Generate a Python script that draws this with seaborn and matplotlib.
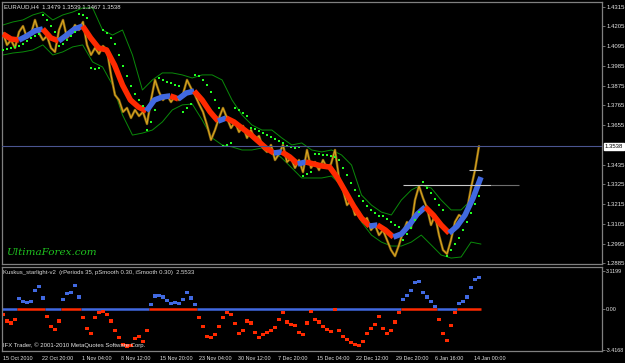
import numpy as np
import pandas as pd
import matplotlib
matplotlib.use("Agg")
import matplotlib.pyplot as plt
import matplotlib.transforms as mtransforms
import seaborn as sns

sns.set_theme(style="dark")
plt.rcParams['font.family'] = ['Liberation Sans', 'DejaVu Sans']

# ---------------- data ----------------
symbol_title = "EURAUD,H4  1.3479 1.3539 1.3467 1.3538"
osc_title = "Kuskus_starlight-v2  (rPeriods 35, pSmooth 0.30, iSmooth 0.30)  2.5533"
copyright_text = "IFX Trader, \u00a9 2001-2010 MetaQuotes Software Corp."
watermark = "UltimaForex.com"

price_close = [1.4168, 1.4102, 1.4129, 1.4085, 1.4174, 1.4207, 1.4141, 1.4163, 1.4241, 1.4168,
               1.4129, 1.4152, 1.4085, 1.4063, 1.4185, 1.4241, 1.4141, 1.4168, 1.4213, 1.4185,
               1.4230, 1.4102, 1.4046, 1.4085, 1.4052, 1.4096, 1.4074, 1.3935, 1.3823, 1.3795,
               1.3729, 1.3751, 1.3695, 1.3740, 1.3706, 1.3729, 1.3662, 1.3795, 1.3907, 1.3840,
               1.3795, 1.3823, 1.3784, 1.3818, 1.3795, 1.3829, 1.3907, 1.3862, 1.3823, 1.3773,
               1.3729, 1.3656, 1.3573, 1.3628, 1.3695, 1.3751, 1.3695, 1.3639, 1.3673, 1.3617,
               1.3651, 1.3584, 1.3628, 1.3573, 1.3595, 1.3528, 1.3506, 1.3545, 1.3461, 1.3495,
               1.3545, 1.3450, 1.3472, 1.3417, 1.3461, 1.3394, 1.3517, 1.3417, 1.3450, 1.3405,
               1.3461, 1.3417, 1.3439, 1.3517, 1.3361, 1.3294, 1.3210, 1.3238, 1.3155, 1.3171,
               1.3116, 1.3138, 1.3071, 1.3099, 1.3043, 1.3071, 1.3016, 1.2960, 1.2926, 1.2988,
               1.3060, 1.3116, 1.3082, 1.3238, 1.3316, 1.3249, 1.3194, 1.3099, 1.3155, 1.3043,
               1.2960, 1.2938, 1.3016, 1.3116, 1.3155, 1.3138, 1.3183, 1.3305, 1.3405, 1.3538]

ma_line = [1.4163, 1.4135, 1.4129, 1.4152, 1.4180, 1.4191, 1.4141, 1.4124, 1.4157, 1.4191,
           1.4207, 1.4141, 1.4085, 1.4074, 1.3990, 1.3879, 1.3795, 1.3756, 1.3734, 1.3795,
           1.3812, 1.3818, 1.3801, 1.3834, 1.3845, 1.3795, 1.3729, 1.3678, 1.3695, 1.3673,
           1.3639, 1.3606, 1.3567, 1.3528, 1.3500, 1.3506, 1.3478, 1.3439, 1.3450, 1.3439,
           1.3428, 1.3422, 1.3361, 1.3283, 1.3205, 1.3138, 1.3093, 1.3099, 1.3071, 1.3032,
           1.3049, 1.3099, 1.3160, 1.3199, 1.3155, 1.3099, 1.3054, 1.3093, 1.3155, 1.3249,
           1.3366]

sar_dots = [1.4074, 1.4079, 1.4085, 1.4091, 1.4096, 1.4107, 1.4124, 1.4141, 1.4152, 1.4163,
            1.4269, 1.4241, 1.4207, 1.4174, 1.4096, 1.4107, 1.4129, 1.4152, 1.4174, 1.4274,
            1.4269, 1.4252, 1.3974, 1.3968, 1.3974, 1.4185, 1.4168, 1.4141, 1.4107, 1.4046,
            1.3985, 1.3929, 1.3873, 1.3829, 1.3795, 1.3762, 1.3628, 1.3673, 1.3740, 1.3918,
            1.3907, 1.3896, 1.3890, 1.3879, 1.3873, 1.3729, 1.3751, 1.3773, 1.3935, 1.3929,
            1.3907, 1.3879, 1.3840, 1.3795, 1.3751, 1.3539, 1.3545, 1.3556, 1.3751, 1.3740,
            1.3723, 1.3706, 1.3639, 1.3634, 1.3623, 1.3612, 1.3600, 1.3589, 1.3578, 1.3567,
            1.3556, 1.3539, 1.3534, 1.3528, 1.3534, 1.3372, 1.3383, 1.3394, 1.3495, 1.3495,
            1.3489, 1.3489, 1.3483, 1.3478, 1.3461, 1.3417, 1.3377, 1.3333, 1.3294, 1.3261,
            1.3233, 1.3205, 1.3183, 1.3166, 1.3149, 1.3149, 1.3133, 1.3116, 1.3099, 1.3088,
            1.3016, 1.3049, 1.3082, 1.3127, 1.3171, 1.3339, 1.3305, 1.3277, 1.3244, 1.3210,
            1.3183, 1.2926, 1.2960, 1.2993, 1.3026, 1.3071, 1.3116, 1.3166, 1.3216, 1.3261]

band_upper = [1.4213, 1.4230, 1.4241, 1.4269, 1.4285, 1.4241, 1.4269, 1.4285, 1.4308, 1.4308,
              1.4185, 1.4157, 1.4185, 1.4046, 1.3851, 1.3907, 1.3946, 1.3946, 1.3935, 1.3918,
              1.3935, 1.3935, 1.3907, 1.3795, 1.3712, 1.3656, 1.3628, 1.3628, 1.3584, 1.3545,
              1.3556, 1.3517, 1.3506, 1.3517, 1.3489, 1.3433, 1.3266, 1.3210, 1.3171, 1.3155,
              1.3238, 1.3294, 1.3322, 1.3305, 1.3238, 1.3183, 1.3183, 1.3238, 1.3350]

band_lower = [1.4046, 1.4057, 1.4063, 1.4074, 1.4102, 1.4046, 1.4063, 1.4091, 1.4102, 1.4007,
              1.3979, 1.3879, 1.3712, 1.3600, 1.3611, 1.3628, 1.3673, 1.3740, 1.3768, 1.3773,
              1.3684, 1.3584, 1.3545, 1.3534, 1.3517, 1.3517, 1.3528, 1.3517, 1.3472, 1.3417,
              1.3361, 1.3361, 1.3361, 1.3372, 1.3316, 1.3210, 1.3116, 1.3043, 1.3004, 1.2982,
              1.2982, 1.3004, 1.3043, 1.2988, 1.2932, 1.2915, 1.2921, 1.3004, 1.2993]

osc_values = [-0.46, -1.02, -1.18, -0.86, 0.81, 0.57, 0.49, 0.57, 1.53, 1.85,
              0.89, -0.62, -1.50, -1.74, -1.02, 0.73, 1.29, 1.37, 1.93, 0.97,
              -0.70, -1.66, -2.06, -0.70, -0.30, -0.22, -0.46, -1.02, -1.82, -2.38,
              -2.93, -3.09, -3.01, -2.46, -2.30, -2.70, -1.82, 0.33, 1.05, 1.13,
              0.97, 0.65, 0.41, 0.49, 0.41, 0.73, 1.37, 0.89, 0.33, -0.70,
              -1.50, -2.30, -2.38, -2.14, -1.50, -0.70, -0.30, -0.46, -1.26, -2.06,
              -1.82, -1.02, -1.18, -1.98, -2.38, -2.14, -1.98, -1.82, -1.58, -0.86,
              -0.30, -1.10, -1.34, -1.42, -1.98, -2.14, -1.18, -0.22, -0.86, -1.10,
              -1.50, -1.74, -1.90, -0.10, -1.82, -2.30, -2.54, -2.77, -2.93, -3.01,
              -2.70, -2.06, -1.66, -1.34, -0.62, -1.66, -2.06, -1.82, -1.10, -0.30,
              0.73, 1.13, 1.53, 2.17, 2.25, 1.37, 0.97, 0.57, 0.18, -0.86,
              -2.06, -2.61, -1.42, -0.30, 0.41, 0.57, 0.97, 1.77, 2.41, 2.55]

last_price = 1.3538
level_prev_high = 1.3322
level_recent = 1.3408

price_ticks = [1.4315, 1.4205, 1.4095, 1.3985, 1.3875, 1.3765, 1.3655,
               1.3435, 1.3325, 1.3215, 1.3105, 1.2995, 1.2885]
osc_ticks = [3.1199, 0.0, -3.4168]
osc_tick_labels = ["3.1199", "0.00", "-3.4168"]
date_labels = ["15 Oct 2010", "22 Oct 20:00", "1 Nov 04:00", "8 Nov 12:00", "15 Nov 20:00",
               "23 Nov 04:00", "30 Nov 12:00", "7 Dec 20:00", "15 Dec 04:00", "22 Dec 12:00",
               "29 Dec 20:00", "6 Jan 16:00", "14 Jan 00:00"]

# ---------------- layout / style ----------------
W, H = 625, 363
BG = "black"
FRAME = "#808080"
TXT = "#E6E6E6"
RED = "#FF2A00"
BLUE = "#4169E1"
FS = 4.3
FS_X = 3.9

span = 476.0           # horizontal extent of the data (sample-space units)
label_step = 39.25     # spacing between date labels

fig = plt.figure(figsize=(W / 100, H / 100), dpi=100, facecolor=BG)
ax = fig.add_axes([2 / W, 1 - 264 / H, 600 / W, 262 / H], facecolor=BG)
ax2 = fig.add_axes([2 / W, 1 - 351 / H, 600 / W, 84 / H], facecolor=BG)

x_price = np.linspace(0, span, len(price_close))
x_ma = np.linspace(0, span + 2, len(ma_line))
x_band = np.linspace(0, span + 2, len(band_upper))
x_osc = np.linspace(0, span, len(osc_values))
x_end = x_price[-1]

# envelope lines
sns.lineplot(x=x_band, y=band_upper, ax=ax, color="#0A8A0A", lw=0.7, zorder=1)
sns.lineplot(x=x_band, y=band_lower, ax=ax, color="#0A8A0A", lw=0.7, zorder=1)

# price (bar-like jagged trace)
sns.lineplot(x=x_price, y=price_close, ax=ax, color="#806010", lw=1.8, zorder=2)
sns.lineplot(x=x_price, y=price_close, ax=ax, color="#DAA520", lw=0.8, zorder=2.1)

# smoothed MA band, coloured by direction
ma = np.asarray(ma_line)
rising = np.diff(ma) > 0
start = 0
for i in range(1, len(rising) + 1):
    if i == len(rising) or rising[i] != rising[start]:
        seg = slice(start, i + 1)
        ax.plot(x_ma[seg], ma[seg], color=BLUE if rising[start] else RED,
                lw=4.0, solid_capstyle="butt", zorder=3)
        start = i

# parabolic SAR dots
sns.scatterplot(x=x_price, y=sar_dots, ax=ax, color="#22FF22", marker="s", s=2.2,
                linewidth=0, zorder=4)

# horizontal levels
ax.axhline(last_price, color="#4A5590", lw=0.8, zorder=5)
ax.hlines(level_prev_high, x_price[100], x_end + 12, color="#C8C8C8", lw=0.8, zorder=5)
ax.hlines(level_prev_high, x_end + 12, x_end + 40, color="#6E6E6E", lw=0.8, zorder=5)
ax.hlines(level_recent, x_price[116] + 2, x_end + 3, color="#C8C8C8", lw=0.8, zorder=5)

ax.set_xlim(-1, 599)
ax.set_ylim(1.2882, 1.4341)
ax.yaxis.tick_right()
ax.set_yticks(price_ticks)
ax.set_yticklabels([f"{t:.4f}" for t in price_ticks])
ax.tick_params(axis="y", length=2, width=0.6, pad=1.2, color=FRAME, labelcolor=TXT, labelsize=FS)
ax.set_xticks([])
ax.set_xlabel("")
ax.set_ylabel("")
ax.grid(False)
for sp in ax.spines.values():
    sp.set_color(FRAME)
    sp.set_linewidth(0.9)

trans = mtransforms.blended_transform_factory(ax.transAxes, ax.transData)
ax.text(1.004, last_price, "1.3538", transform=trans, fontsize=FS, color="black",
        va="center", ha="left",
        bbox=dict(boxstyle="square,pad=0.15", facecolor="white", edgecolor="white"))

ax.text(2 / 600, 1 - 5 / 262, symbol_title, transform=ax.transAxes, fontsize=FS,
        color=TXT, va="center", ha="left")
ax.text(4 / 600, 0.042, watermark, transform=ax.transAxes, fontsize=7.5, color="#1FC21F",
        style="italic", family=["DejaVu Serif"], va="center", ha="left")

# ---------------- oscillator panel ----------------
osc = np.asarray(osc_values)
pos = osc > 0
start = 0
for i in range(1, len(pos) + 1):
    if i == len(pos) or pos[i] != pos[start]:
        x0 = x_osc[start] - 2
        x1 = x_osc[i - 1] + 2
        ax2.hlines(0, x0, x1, color=RED if pos[start] else BLUE, lw=1.8, zorder=1)
        start = i

df_osc = pd.DataFrame({"x": x_osc, "v": osc, "side": np.where(pos, "up", "down")})
sns.scatterplot(data=df_osc, x="x", y="v", hue="side", palette={"up": BLUE, "down": RED},
                marker="s", s=5, linewidth=0, legend=False, ax=ax2, zorder=2)

ax2.set_xlim(-1, 599)
ax2.set_ylim(-3.50, 3.455)
ax2.yaxis.tick_right()
ax2.set_yticks(osc_ticks)
ax2.set_yticklabels(osc_tick_labels)
ax2.tick_params(axis="y", length=2, width=0.6, pad=1.0, color=FRAME, labelcolor=TXT, labelsize=FS_X)
ax2.set_xticks(np.arange(len(date_labels)) * label_step)
ax2.set_xticklabels(date_labels, ha="left")
ax2.tick_params(axis="x", length=2, width=0.6, pad=1.5, color=FRAME, labelcolor=TXT, labelsize=FS_X)
ax2.set_xlabel("")
ax2.set_ylabel("")
ax2.grid(False)
for sp in ax2.spines.values():
    sp.set_color(FRAME)
    sp.set_linewidth(0.9)

ax2.text(1 / 600, 0.93, osc_title, transform=ax2.transAxes, fontsize=FS, color="#D8D8D8",
         va="center", ha="left")
ax2.text(1 / 600, 0.07, copyright_text, transform=ax2.transAxes, fontsize=FS, color=TXT,
         va="center", ha="left")

fig.savefig("out.png", dpi=100, facecolor=BG)
